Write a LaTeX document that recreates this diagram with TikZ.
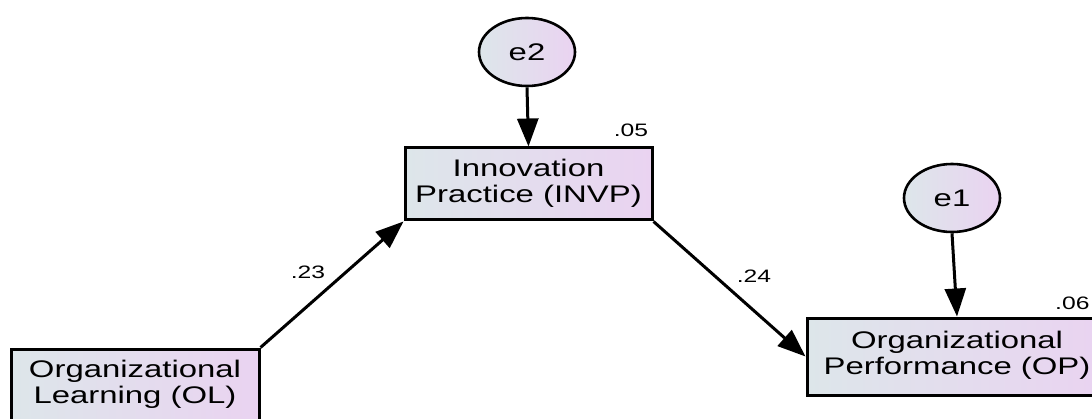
\documentclass[tikz,border=0pt]{standalone}
\usepackage{fontspec}
\setmainfont{Liberation Sans}
\usetikzlibrary{arrows.meta,shapes.geometric}
\definecolor{fillL}{HTML}{DDE6EA}
\definecolor{fillR}{HTML}{EAD3F1}
\newcommand{\wide}[1]{\scalebox{1.37}[1]{#1}}
\tikzset{
  varbox/.style={draw=black, line width=3pt, left color=fillL, right color=fillR,
    minimum height=72pt, inner sep=0pt,
    font=\fontsize{24}{26}\selectfont},
  errnode/.style={ellipse, draw=black, line width=2.6pt, left color=fillL, right color=fillR,
    minimum width=96pt, minimum height=68pt, inner sep=0pt,
    font=\fontsize{24}{26}\selectfont},
  path/.style={line width=3pt, -{Triangle[length=28pt,width=21pt]}},
  coef/.style={inner sep=0pt, font=\fontsize{18}{20}\selectfont}
}
\begin{document}
\begin{tikzpicture}[x=1pt,y=1pt]
\useasboundingbox (0,0) rectangle (1092,418);
\clip (0,0) rectangle (1092,418);
\node[varbox, minimum width=248pt] (OL) at (135,33)
  {\wide{\begin{tabular}{@{}c@{}}Organizational\\Learning (OL)\end{tabular}}};
\node[varbox, minimum width=247pt] (INVP) at (528.5,234)
  {\wide{\begin{tabular}{@{}c@{}}Innovation\\Practice (INVP)\end{tabular}}};
\node[varbox, minimum width=300pt, minimum height=77pt] (OP) at (957,61.5)
  {\wide{\begin{tabular}{@{}c@{}}Organizational\\Performance (OP)\end{tabular}}};
\node[errnode] (e2) at (527,366) {\wide{e2}};
\node[errnode] (e1) at (952,220) {\wide{e1}};
\draw[path] (OL.north east) -- (INVP.south west);
\draw[path] (INVP.south east) -- (OP.west);
\draw[path] (e2.south) -- (INVP.north);
\draw[path] (e1.south) -- (OP.north);
\node[coef] (c23) at (308,146) {\wide{.23}};
\node[coef] (c24) at (754,142) {\wide{.24}};
\node[coef] (c05) at (631,288) {\wide{.05}};
\node[coef, anchor=west] (c06) at (1055,115) {\wide{.06}};
\end{tikzpicture}
\end{document}
